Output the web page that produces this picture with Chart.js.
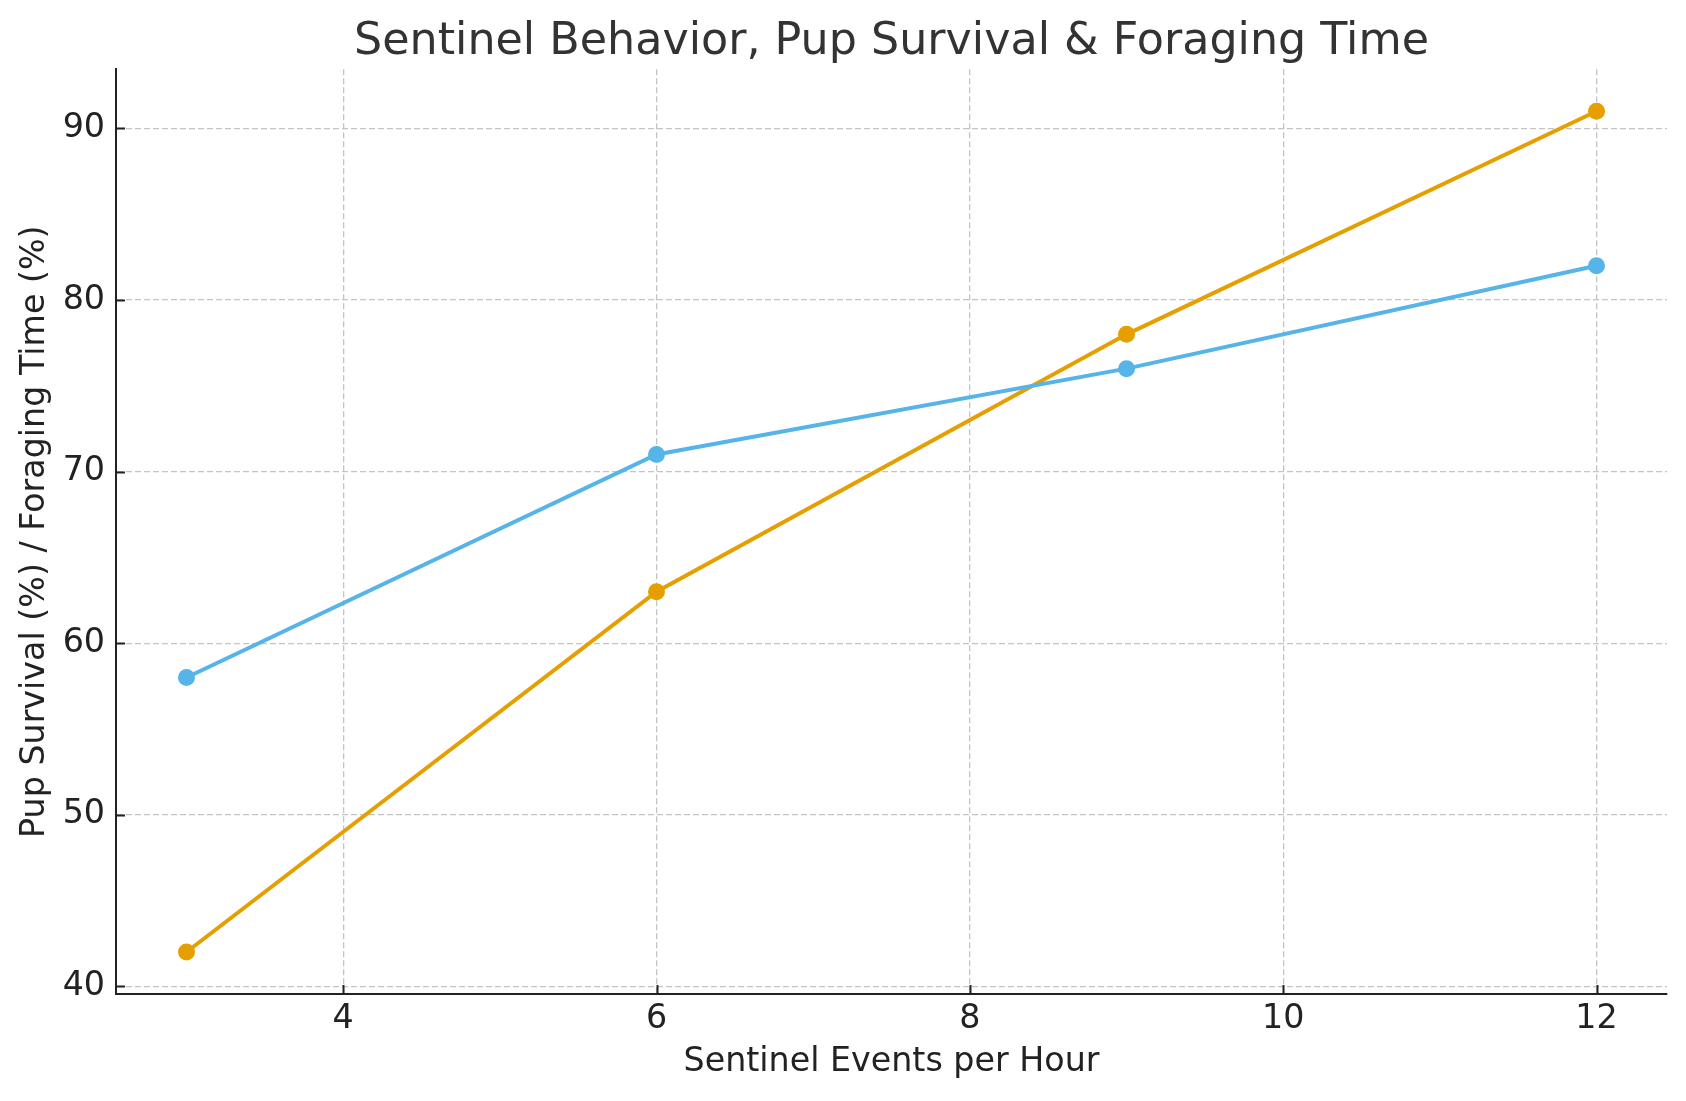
<!DOCTYPE html>
<html>
<head>
<meta charset="utf-8">
<script src="https://cdn.jsdelivr.net/npm/chart.js@4.4.1/dist/chart.umd.min.js"></script>
<style>
  html, body { margin: 0; padding: 0; background: #ffffff; }
  #wrap { width: 1686px; height: 1101px; position: relative; }
</style>
</head>
<body>
<div id="wrap"><canvas id="c" width="1686" height="1101"></canvas></div>
<script>
const sentinelEvents = [3, 6, 9, 12];
const pupSurvival = [58, 71, 76, 82];
const foragingTime = [42, 63, 78, 91];
const xTicks = [4, 6, 8, 10, 12];
const yTicks = [40, 50, 60, 70, 80, 90];
const titleText = 'Sentinel Behavior, Pup Survival & Foraging Time';
const xLabel = 'Sentinel Events per Hour';
const yLabel = 'Pup Survival (%) / Foraging Time (%)';

const FONT = "'DejaVu Sans', 'Liberation Sans', sans-serif";

const inwardTicks = {
  id: 'inwardTicks',
  afterDraw(chart) {
    const ctx = chart.ctx;
    const xs = chart.scales.x, ys = chart.scales.y;
    const area = chart.chartArea;
    ctx.save();
    ctx.strokeStyle = '#222222';
    ctx.lineWidth = 2;
    xs.ticks.forEach(t => {
      const px = Math.round(xs.getPixelForValue(t.value)) + 0.5;
      ctx.beginPath();
      ctx.moveTo(px, area.bottom);
      ctx.lineTo(px, area.bottom - 9);
      ctx.stroke();
    });
    ys.ticks.forEach(t => {
      const py = Math.round(ys.getPixelForValue(t.value)) + 0.5;
      ctx.beginPath();
      ctx.moveTo(area.left, py);
      ctx.lineTo(area.left + 9, py);
      ctx.stroke();
    });
    ctx.restore();
  }
};

const toPoints = (xs, ys) => xs.map((x, i) => ({ x: x, y: ys[i] }));

new Chart(document.getElementById('c'), {
  type: 'line',
  data: {
    datasets: [
      {
        label: 'Pup Survival (%)',
        data: toPoints(sentinelEvents, pupSurvival),
        borderColor: '#56B4E9',
        backgroundColor: '#56B4E9',
        borderWidth: 4,
        pointRadius: 8.5,
        pointHoverRadius: 8.5,
        pointBorderWidth: 0,
        tension: 0,
        fill: false
      },
      {
        label: 'Foraging Time (%)',
        data: toPoints(sentinelEvents, foragingTime),
        borderColor: '#E69F00',
        backgroundColor: '#E69F00',
        borderWidth: 4,
        pointRadius: 8.5,
        pointHoverRadius: 8.5,
        pointBorderWidth: 0,
        tension: 0,
        fill: false
      }
    ]
  },
  options: {
    responsive: false,
    animation: false,
    devicePixelRatio: 1,
    layout: { padding: { left: 0, right: 19, top: 0, bottom: 0 } },
    plugins: {
      legend: { display: false },
      tooltip: { enabled: false },
      title: {
        display: true,
        fullSize: false,
        text: titleText,
        color: '#333333',
        font: { family: FONT, size: 44.4, weight: 'normal', lineHeight: 1.2 },
        padding: { top: 16, bottom: 0 }
      }
    },
    scales: {
      x: {
        type: 'linear',
        min: 2.55,
        max: 12.45,
        afterBuildTicks: (s) => { s.ticks = xTicks.map(v => ({ value: v })); },
        afterFit: (s) => { s.height = 107; },
        ticks: {
          color: '#222222',
          font: { family: FONT, size: 33.3 },
          padding: 5,
          maxRotation: 0,
          autoSkip: false
        },
        grid: {
          color: '#c4c4c4',
          lineWidth: 1.3,
          drawTicks: false
        },
        border: { display: true, color: '#222222', width: 2, dash: [6, 3] },
        title: {
          display: true,
          text: xLabel,
          color: '#222222',
          font: { family: FONT, size: 33.3 },
          padding: { top: 0, bottom: 19 }
        }
      },
      y: {
        type: 'linear',
        min: 39.55,
        max: 93.45,
        afterBuildTicks: (s) => { s.ticks = yTicks.map(v => ({ value: v })); },
        afterFit: (s) => { s.width = 116; },
        ticks: {
          color: '#222222',
          font: { family: FONT, size: 33.3 },
          padding: 11,
          autoSkip: false
        },
        grid: {
          color: '#c4c4c4',
          lineWidth: 1.3,
          drawTicks: false
        },
        border: { display: true, color: '#222222', width: 2, dash: [6, 3] },
        title: {
          display: true,
          text: yLabel,
          color: '#222222',
          font: { family: FONT, size: 33.3 },
          padding: { top: 15.5, bottom: 0 }
        }
      }
    }
  },
  plugins: [inwardTicks]
});
</script>
</body>
</html>
